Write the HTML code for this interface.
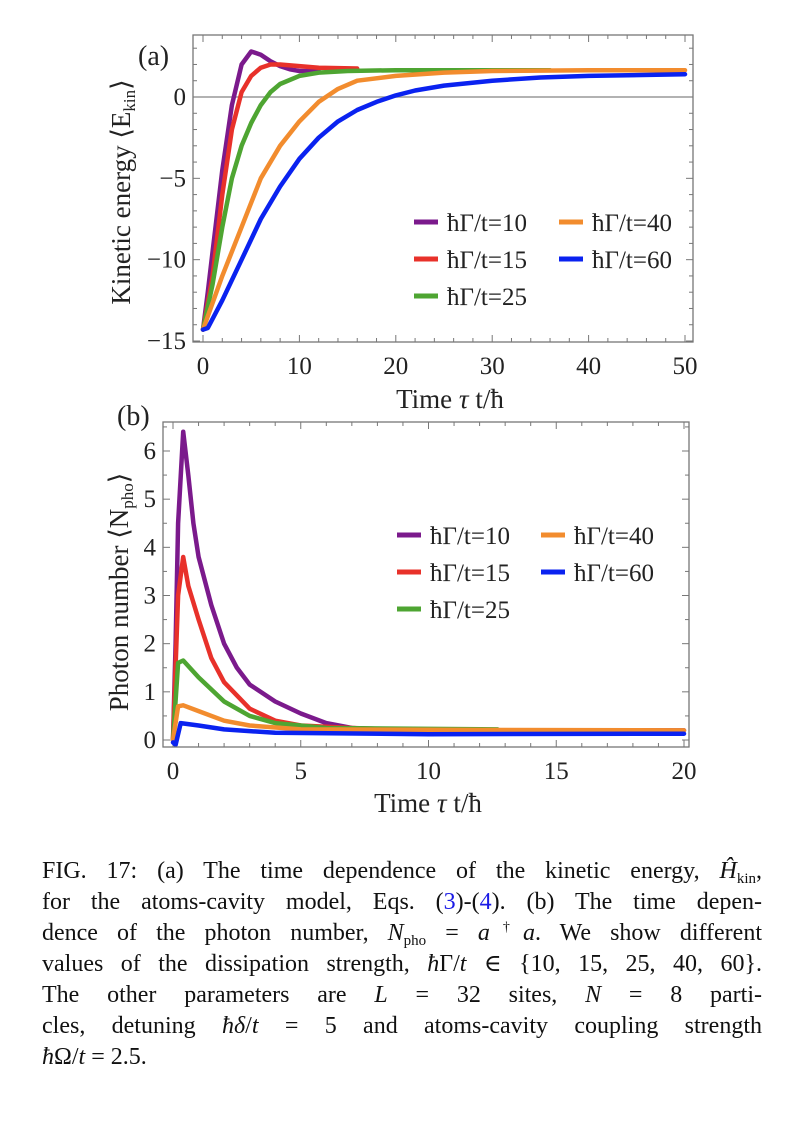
<!DOCTYPE html>
<html><head><meta charset="utf-8">
<style>
html,body{margin:0;padding:0;background:#fff;}
body{width:790px;height:1124px;position:relative;overflow:hidden;font-family:"Liberation Serif","DejaVu Serif",serif;}
svg text{font-family:"Liberation Serif","DejaVu Serif",serif;fill:#222;}
#caption{position:absolute;left:42px;top:856px;width:720px;font-size:24px;line-height:31px;color:#111;}
#caption div{text-align:justify;text-align-last:justify;white-space:nowrap;height:31px;line-height:31px;}
#caption div.last{text-align-last:left;}
.i{font-style:italic;}
.lk{color:#1a1ae6;}
.sb{font-size:15px;position:relative;top:5px;line-height:0;}
.sp{font-size:14px;position:relative;top:-9px;line-height:0;}
</style></head><body>
<svg id="chart" width="790" height="840" style="position:absolute;left:0;top:0"></svg>
<div id="caption">
<div>FIG. 17: (a) The time dependence of the kinetic energy, <span class="i">Ĥ</span><span class="sb">kin</span>,</div>
<div>for the atoms-cavity model, Eqs. (<span class="lk">3</span>)-(<span class="lk">4</span>). (b) The time depen-</div>
<div>dence of the photon number, <span class="i">N</span><span class="sb">pho</span> = <span class="i">a</span><span class="sp">†</span><span class="i">a</span>. We show different</div>
<div>values of the dissipation strength, <span class="i">ħ</span>Γ/<span class="i">t</span> ∈ {10, 15, 25, 40, 60}.</div>
<div>The other parameters are <span class="i">L</span> = 32 sites, <span class="i">N</span> = 8 parti-</div>
<div>cles, detuning <span class="i">ħδ</span>/<span class="i">t</span> = 5 and atoms-cavity coupling strength</div>
<div class="last"><span class="i">ħ</span>Ω/<span class="i">t</span> = 2.5.</div>
</div>
<script>
const seriesLabels = ["ħΓ/t=10","ħΓ/t=15","ħΓ/t=25","ħΓ/t=40","ħΓ/t=60"];
const seriesColors = ["#7b1a8c","#e8312a","#4ea532","#f28c2e","#0a22f0"];
// Panel (a): kinetic energy
const aT10 = [0,0.5,1,2,3,4,5,6,7,8,9,10,11,12];
const aE10 = [-14.3,-12,-9.5,-4.5,-0.5,2.0,2.8,2.6,2.2,1.9,1.7,1.6,1.6,1.6];
const aT15 = [0,1,2,3,4,5,6,7,8,10,12,16];
const aE15 = [-14.3,-11,-6,-2,0.3,1.3,1.8,2.0,2.0,1.9,1.8,1.75];
const aT25 = [0,1,2,3,4,5,6,7,8,10,12,15,20,36];
const aE25 = [-14.3,-11.5,-8,-5,-3,-1.6,-0.5,0.3,0.8,1.3,1.5,1.6,1.65,1.65];
const aT40 = [0,2,4,6,8,10,12,14,16,20,25,30,40,50];
const aE40 = [-14.3,-11,-8,-5,-3,-1.5,-0.3,0.5,1.0,1.3,1.5,1.6,1.65,1.65];
const aT60 = [0,0.5,2,4,6,8,10,12,14,16,18,20,22,25,30,35,40,50];
const aE60 = [-14.3,-14.2,-12.5,-10,-7.5,-5.5,-3.8,-2.5,-1.5,-0.8,-0.3,0.1,0.4,0.7,1.0,1.2,1.3,1.4];
const aXTicks = [0,10,20,30,40,50];
const aYTicks = [0,-5,-10,-15];
// Panel (b): photon number
const bT10 = [0,0.1,0.2,0.4,0.6,0.8,1,1.5,2,2.5,3,4,5,6,7,8,10,20];
const bN10 = [0,2,4.5,6.4,5.5,4.5,3.8,2.8,2.0,1.5,1.15,0.8,0.55,0.35,0.25,0.22,0.2,0.2];
const bT15 = [0,0.2,0.4,0.6,1,1.5,2,3,4,5,7,10];
const bN15 = [0,3,3.8,3.2,2.5,1.7,1.2,0.65,0.4,0.3,0.25,0.2];
const bT25 = [0,0.2,0.4,1,2,3,4,6,12.7];
const bN25 = [0,1.6,1.65,1.3,0.8,0.5,0.35,0.25,0.22];
const bT40 = [0,0.2,0.4,1,2,3,5,20];
const bN40 = [0,0.7,0.72,0.6,0.4,0.3,0.22,0.2];
const bT60 = [0,0.1,0.3,1,2,4,10,20];
const bN60 = [-0.05,-0.1,0.35,0.3,0.22,0.15,0.12,0.13];
const bXTicks = [0,5,10,15,20];
const bYTicks = [0,1,2,3,4,5,6];

const NS="http://www.w3.org/2000/svg";
const svg=document.getElementById('chart');
function mk(tag,attrs,parent){const e=document.createElementNS(NS,tag);for(const k in attrs)e.setAttribute(k,attrs[k]);(parent||svg).appendChild(e);return e;}

function panel(cfg){
  const g=mk('g',{});
  
  
  const sx=v=>cfg.x0px+(v-cfg.xmin)*(cfg.x1px-cfg.x0px)/(cfg.xmax-cfg.xmin);
  const sy=v=>cfg.y0px+(v-cfg.ymin)*(cfg.y1px-cfg.y0px)/(cfg.ymax-cfg.ymin);
  const L=cfg.L,R=cfg.R,T=cfg.T,B=cfg.B;
  const tg=mk('g',{stroke:'#777','stroke-width':1},g);
  
  
  for(let v=cfg.xmin;v<=cfg.xmax+1e-9;v+=cfg.xminor){
    const x=sx(v);if(x<L||x>R)continue;
    const major=Math.abs(v/cfg.xmajor-Math.round(v/cfg.xmajor))<1e-6;
    const len=major?7:4;
    mk('line',{x1:x,x2:x,y1:B,y2:B-len},tg);mk('line',{x1:x,x2:x,y1:T,y2:T+len},tg);
  }
  for(let v=Math.ceil(cfg.ylo/cfg.yminor)*cfg.yminor;v<=cfg.yhi+1e-9;v+=cfg.yminor){
    const y=sy(v);if(y<T||y>B)continue;
    const major=Math.abs(v/cfg.ymajor-Math.round(v/cfg.ymajor))<1e-6;
    const len=major?7:4;
    mk('line',{x1:L,x2:L+len,y1:y,y2:y},tg);mk('line',{x1:R,x2:R-len,y1:y,y2:y},tg);
  }
  if(cfg.zero){const z=mk('line',{x1:L,x2:R,y1:sy(0),y2:sy(0),stroke:'#999','stroke-width':1.5},g);
    }
  cfg.series.forEach((s,i)=>{
    const pts=s[0].map((t,j)=>sx(t).toFixed(1)+','+sy(s[1][j]).toFixed(1)).join(' ');
    const p=mk('polyline',{points:pts,fill:'none',stroke:seriesColors[i],'stroke-width':4.5,'stroke-linejoin':'round','stroke-linecap':'round'},g);
    
    
  });
  const fr=mk('rect',{x:L,y:T,width:R-L,height:B-T,fill:'none',stroke:'#777','stroke-width':1.3},g);
  
  cfg.xticks.forEach(v=>{const t=mk('text',{x:sx(v),y:B+32,'text-anchor':'middle','font-size':25},g);t.textContent=String(v);
    });
  cfg.yticks.forEach(v=>{const t=mk('text',{x:L-7,y:sy(v)+8,'text-anchor':'end','font-size':25},g);t.textContent=(v<0?'−'+(-v):String(v));
    });
  const xt=mk('text',{x:cfg.xtx,y:cfg.xty,'text-anchor':'middle','font-size':27},g);
  xt.innerHTML='Time <tspan font-style="italic">τ</tspan> t/ħ';
  
  const yt=mk('text',{x:0,y:0,'text-anchor':'middle','font-size':27,transform:`translate(${cfg.ytx},${cfg.yty}) rotate(-90)`},g);
  yt.innerHTML=cfg.ytitle;
  
  const pl=mk('text',{x:cfg.plx,y:cfg.ply,'font-size':28},g);pl.textContent=cfg.plabel;
  
  const lg=mk('g',{},g);
  const pos=[[0,0],[0,1],[0,2],[1,0],[1,1]];
  seriesLabels.forEach((lab,i)=>{
    const cx=cfg.legX[pos[i][0]],cy=cfg.legY+pos[i][1]*cfg.legDY;
    const e=mk('g',{},lg);
    mk('line',{x1:cx,x2:cx+24,y1:cy,y2:cy,stroke:seriesColors[i],'stroke-width':5},e);
    const t=mk('text',{x:cx+33,y:cy+9,'font-size':25},e);t.textContent=lab;
  });
}
panel({name:'panel-a-kinetic-energy',L:193,R:693,T:35,B:342,
  xmin:0,xmax:50,x0px:203,x1px:685,ymin:0,ymax:-15,y0px:97,y1px:341,
  xminor:2,xmajor:10,yminor:1,ymajor:5,ylo:-15.5,yhi:3.8,zero:true,
  series:[[aT10,aE10],[aT15,aE15],[aT25,aE25],[aT40,aE40],[aT60,aE60]],
  xticks:aXTicks,yticks:aYTicks,xtx:450,xty:408,ytx:130,yty:192,
  ytitle:'Kinetic energy ⟨E<tspan font-size="17" dy="5">kin</tspan><tspan dy="-5">⟩</tspan>',
  plabel:'(a)',plx:138,ply:65,legX:[414,559],legY:222,legDY:37});
panel({name:'panel-b-photon-number',L:163,R:689,T:422,B:747,
  xmin:0,xmax:20,x0px:173,x1px:684,ymin:0,ymax:6,y0px:740,y1px:451,
  xminor:1,xmajor:5,yminor:0.5,ymajor:1,ylo:-0.2,yhi:6.6,zero:false,
  series:[[bT10,bN10],[bT15,bN15],[bT25,bN25],[bT40,bN40],[bT60,bN60]],
  xticks:bXTicks,yticks:bYTicks,xtx:428,xty:812,ytx:128,yty:592,
  ytitle:'Photon number ⟨N<tspan font-size="17" dy="5">pho</tspan><tspan dy="-5">⟩</tspan>',
  plabel:'(b)',plx:117,ply:425,legX:[397,541],legY:535,legDY:37});
</script>
</body></html>
